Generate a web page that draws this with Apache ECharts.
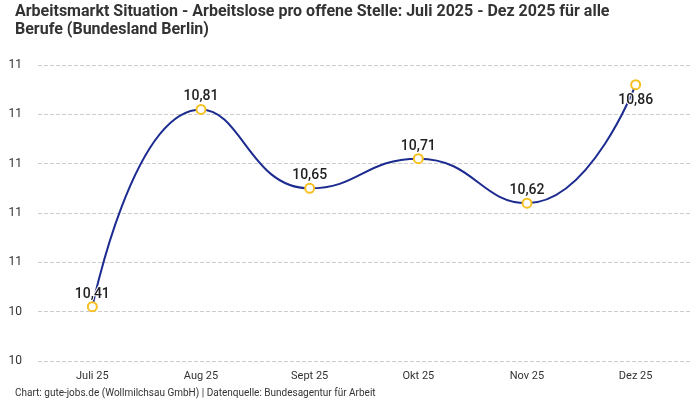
<!DOCTYPE html>
<html><head><meta charset="utf-8">
<script src="https://cdn.jsdelivr.net/npm/echarts@6/dist/echarts.min.js"></script>
<style>html,body{margin:0;padding:0;background:#fff}#c{width:700px;height:400px}</style>
</head><body><div id="c"></div>
<script>
const categories = ['Juli 25', 'Aug 25', 'Sept 25', 'Okt 25', 'Nov 25', 'Dez 25'];
const values = [10.41, 10.81, 10.65, 10.71, 10.62, 10.86];
const titleText = 'Arbeitsmarkt Situation - Arbeitslose pro offene Stelle: Juli 2025 - Dez 2025 für alle\nBerufe (Bundesland Berlin)';
const footerText = 'Chart: gute-jobs.de (Wollmilchsau GmbH) | Datenquelle: Bundesagentur für Arbeit';
const FONT = 'Roboto';

const chart = echarts.init(document.getElementById('c'), null, {renderer: 'canvas'});
chart.setOption({
  backgroundColor: '#fff',
  animation: false,
  textStyle: {fontFamily: FONT},
  title: [{
    text: titleText, left: 10, top: -2,
    textStyle: {fontSize: 16, fontWeight: 'bold', color: '#333', lineHeight: 18, fontFamily: FONT}
  }, {
    text: footerText, left: 10, top: 383,
    textStyle: {fontSize: 10, fontWeight: 'normal', color: '#333', fontFamily: FONT}
  }],
  grid: {left: 38, right: 10, top: 65, bottom: 39},
  xAxis: {
    type: 'category', data: categories, boundaryGap: true,
    axisLine: {show: false}, axisTick: {show: false},
    axisLabel: {color: '#333', fontSize: 11, margin: 10}
  },
  yAxis: {
    type: 'value', min: 10.3, max: 10.9, interval: 0.1,
    axisLine: {show: false}, axisTick: {show: false},
    axisLabel: {color: '#333', fontSize: 12, margin: 16, formatter: v => String(Math.round(v + 1e-9))},
    splitLine: {lineStyle: {type: 'dashed', color: '#ccc'}}
  },
  series: [{
    type: 'line', smooth: true,
    data: values.map((v, i) => i === values.length - 1 ? {value: v, label: {position: 'bottom', distance: 3}} : v),
    lineStyle: {color: '#1c2b8f', width: 2},
    itemStyle: {color: '#fff', borderColor: '#f7c020', borderWidth: 2},
    symbol: 'circle', symbolSize: 9,
    label: {
      show: true, position: 'top', distance: 0,
      fontSize: 14, color: '#222', fontWeight: 500,
      textBorderColor: '#fff', textBorderWidth: 2,
      formatter: p => p.value.toFixed(2).replace('.', ',')
    }
  }]
});
</script></body></html>
